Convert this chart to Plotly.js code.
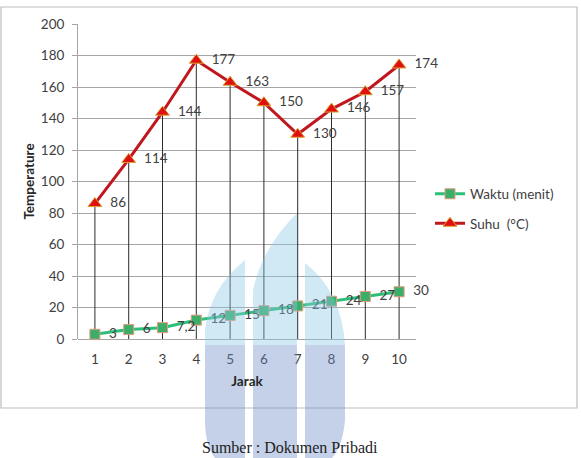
<!DOCTYPE html>
<html><head><meta charset="utf-8">
<script src="https://cdn.plot.ly/plotly-3.0.1.min.js"></script>
<style>html,body{margin:0;padding:0;background:#fff}</style>
</head><body><div id="chart" style="width:581px;height:458px"></div>
<script>
const jarak = [1,2,3,4,5,6,7,8,9,10];
const waktu = [3,6,7.2,12,15,18,21,24,27,30];
const waktuLabels = ['3','6','7,2','12','15','18','21','24','27','30'];
const suhu = [86,114,144,177,163,150,130,146,157,174];
const suhuLabels = ['86','114','144','177','163','150','130','146','157','174'];
const yTicks = [0,20,40,60,80,100,120,140,160,180,200];

const W = 581, H = 458, L = 78, R = 416, T = 24, B = 339;
const px = x => ((x - L) / (R - L)).toFixed(4);
const py = y => ((B - y) / (B - T)).toFixed(4);
const conv = s => s.replace(/(\d+(?:\.\d+)?),(\d+(?:\.\d+)?)/g, (m,a,b) => px(+a)+','+py(+b));
const pad = s => '\u00a0\u00a0' + s;

// drop lines from each Suhu point to the axis
const dropX = [], dropY = [];
jarak.forEach((x,i) => { dropX.push(x, x, null); dropY.push(0, suhu[i], null); });

const font = 'Lato, "Open Sans", sans-serif';
const grey = '#404040';

const traces = [
  {x: dropX, y: dropY, mode: 'lines', line: {color: '#2b2b2b', width: 1}, showlegend: false, hoverinfo: 'skip'},
  {x: jarak, y: waktu, name: 'Waktu (menit)', mode: 'lines+markers+text', cliponaxis: false,
   text: waktuLabels.map(pad), textposition: 'middle right', textfont: {family: font, size: 13.5, color: grey},
   line: {color: '#2DBE7A', width: 3},
   marker: {symbol: 'square', size: 10, color: '#3BAF6A', line: {color: '#E59A7A', width: 1}},
   legendgroup: 'a'},
  {x: jarak, y: suhu, name: 'Suhu  (°C)', mode: 'lines+markers+text', cliponaxis: false,
   text: suhuLabels.map(pad), textposition: 'middle right', textfont: {family: font, size: 13.5, color: grey},
   line: {color: '#C0161C', width: 3},
   marker: {symbol: 'triangle-up', size: 12, color: '#E01010', line: {color: '#D9A030', width: 1}},
   legendgroup: 'b'}
];

const wm = [
  ['M 245,260 L 245,345 L 205,345 L 205,330 Q 210,288 245,260 Z', '#8bc7e7'],
  ['M 245,345 L 245,458 L 215,458 Q 205,445 205,420 L 205,345 Z', '#6b8dc7'],
  ['M 297,213 L 297,345 L 253,345 L 253,290 Q 262,248 297,213 Z', '#8bc7e7'],
  ['M 297,345 L 297,458 L 253,458 L 253,345 Z', '#6b8dc7'],
  ['M 305,263 Q 342,292 345,345 L 305,345 Z', '#8bc7e7'],
  ['M 305,345 L 345,345 L 345,420 Q 343,445 332,458 L 305,458 Z', '#6b8dc7']
];

const shapes = [
  {type: 'rect', xref: 'paper', yref: 'paper', x0: +px(1), x1: +px(577), y0: +py(408), y1: +py(7),
   line: {color: '#BDBDBD', width: 1.2}, fillcolor: 'rgba(0,0,0,0)', layer: 'below'}
].concat(wm.map(([p,c]) => ({type: 'path', xref: 'paper', yref: 'paper', path: conv(p),
   fillcolor: c, opacity: 0.4, line: {width: 0}, layer: 'above'})));

const layout = {
  width: W, height: H,
  margin: {l: L, r: W - R, t: T, b: H - B, pad: 0},
  paper_bgcolor: '#fff', plot_bgcolor: '#fff',
  font: {family: font, size: 13, color: grey},
  showlegend: true,
  legend: {x: +px(430), xanchor: 'left', y: +py(209), yanchor: 'middle',
           font: {family: font, size: 13.5, color: grey}, tracegroupgap: 9,
           traceorder: 'grouped', bgcolor: 'rgba(0,0,0,0)', itemwidth: 30},
  xaxis: {range: [0.5, 10.5], tickvals: jarak, ticktext: jarak.map(String), showgrid: false,
          zeroline: false, showline: false, ticks: '', ticklabelstandoff: 10,
          tickfont: {family: font, size: 13.5, color: grey},
          title: {text: '<b>Jarak</b>', font: {family: font, size: 13.5, color: '#262626'}, standoff: 11}},
  yaxis: {range: [0, 200], tickvals: yTicks, showgrid: true, gridcolor: '#A6A6A6', gridwidth: 1,
          zeroline: true, zerolinecolor: '#A6A6A6', zerolinewidth: 1,
          showline: true, linecolor: '#A6A6A6', linewidth: 1,
          ticks: 'outside', ticklen: 5, tickcolor: '#A6A6A6', ticklabelstandoff: 5,
          tickfont: {family: font, size: 13.5, color: grey},
          title: {text: '<b>Temperature</b>', font: {family: font, size: 13.5, color: '#262626'}, standoff: 3}},
  shapes: shapes,
  annotations: [
    {xref: 'paper', yref: 'paper', x: +px(290), y: +py(458), xanchor: 'center', yanchor: 'bottom',
     text: 'Sumber : Dokumen Pribadi', showarrow: false,
     font: {family: '"Liberation Serif", "Times New Roman", serif', size: 16, color: '#222'}}
  ]
};

Plotly.newPlot('chart', traces, layout, {displayModeBar: false, staticPlot: true});
</script></body></html>
